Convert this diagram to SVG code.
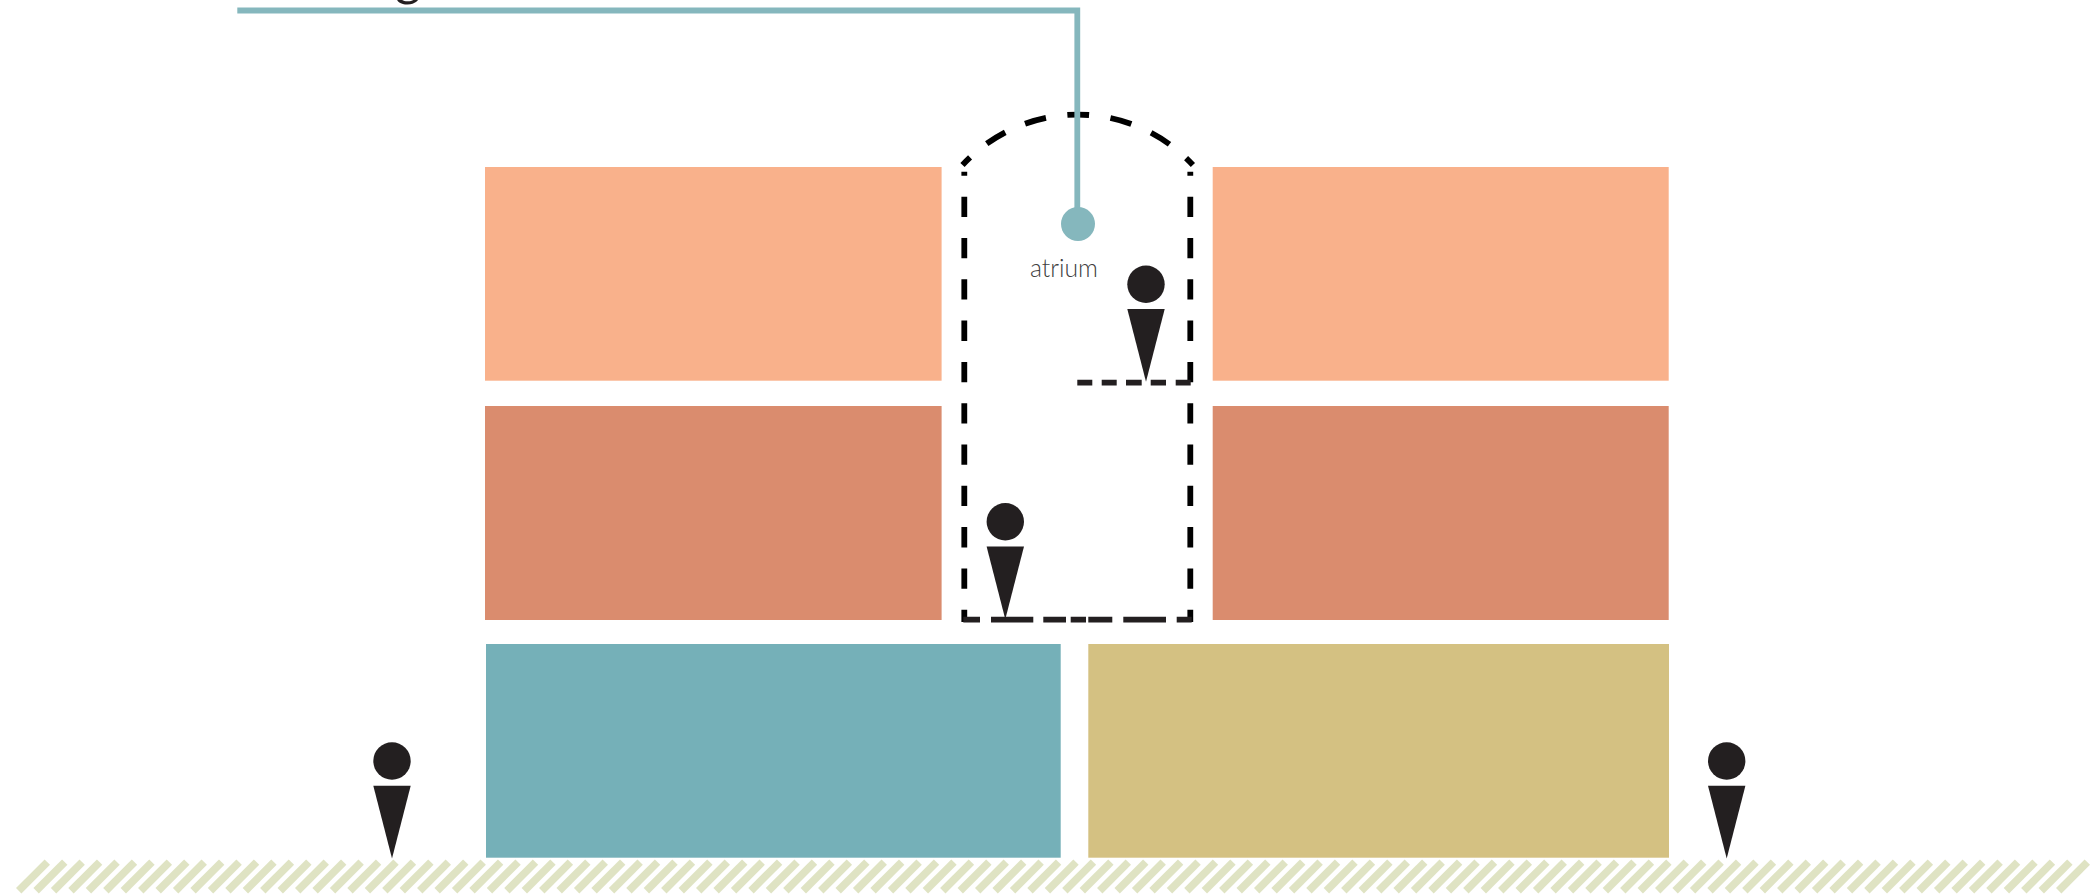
<svg xmlns="http://www.w3.org/2000/svg" width="2094" height="895" viewBox="0 0 2094 895">
<style>
.stripe{stroke:#dfe3c3;stroke-width:7.6;fill:none}
.dash{fill:none;stroke:#000;stroke-width:5.8}
.floor{fill:none;stroke:#231f20;stroke-width:5.8}
.ink{fill:#231f20}
.lab{font-family:"Lato","Liberation Sans",sans-serif;fill:#404040}
</style>
<defs>
<line id="s1" class="stripe" x1="18.7" y1="890.7" x2="47.3" y2="862.1"/>
<g id="s5"><use href="#s1"/><use href="#s1" x="17.436"/><use href="#s1" x="34.872"/><use href="#s1" x="52.308"/><use href="#s1" x="69.744"/></g>
<g id="s25"><use href="#s5"/><use href="#s5" x="87.18"/><use href="#s5" x="174.36"/><use href="#s5" x="261.54"/><use href="#s5" x="348.72"/></g>
<g id="person"><circle cx="0" cy="0" r="18.7"/><path d="M-18.7 24.7H18.7L0 97.5Z"/></g>
</defs>
<rect width="2094" height="895" fill="#fff"/>
<g id="ground"><use href="#s25"/><use href="#s25" x="435.9"/><use href="#s25" x="871.8"/><use href="#s25" x="1307.7"/><use href="#s5" x="1743.6"/><use href="#s5" x="1830.78"/><use href="#s5" x="1917.96"/><use href="#s1" x="2005.14"/><use href="#s1" x="2022.58"/><use href="#s1" x="2040.01"/></g>
<rect id="block-top-left" x="485" y="167" width="456.6" height="213.7" fill="#f9b18b"/>
<rect id="block-top-right" x="1212.7" y="167" width="456" height="213.7" fill="#f9b18b"/>
<rect id="block-mid-left" x="485" y="406" width="456.6" height="214" fill="#da8c6e"/>
<rect id="block-mid-right" x="1212.7" y="406" width="456" height="214" fill="#da8c6e"/>
<rect id="block-low-left" x="486" y="644" width="574.7" height="213.7" fill="#75b0b8"/>
<rect id="block-low-right" x="1088.3" y="644" width="580.7" height="213.7" fill="#d4c182"/>
<g id="atrium-outline">
<path class="dash" stroke-dasharray="21.7 21.6" stroke-dashoffset="10.9" d="M962.5 165A156.8 156.8 0 0 1 1192.9 165"/>
<path class="dash" stroke-dasharray="20.3 21" stroke-dashoffset="16.3" d="M964.3 171.7V622"/>
<path class="dash" stroke-dasharray="20.3 21" stroke-dashoffset="16.3" d="M1190.3 171.7V622"/>
<path class="floor" d="M963.3 619.7H980M991 619.7H1033.3M1043.3 619.7H1066M1070.7 619.7H1086M1088.3 619.7H1112.3M1123.3 619.7H1166M1176.7 619.7H1191.7"/>
<path class="floor" d="M1077.3 382.7H1092.3M1101.7 382.7H1116.7M1126 382.7H1141.7M1150.7 382.7H1166M1175.7 382.7H1190.7"/>
</g>
<g id="connectors"><path d="M237.3 10.5H1077.3V224" fill="none" stroke="#85b7bd" stroke-width="5.8"/></g>
<g id="atrium-marker"><circle cx="1078" cy="224" r="17" fill="#85b7bd"/></g>
<text id="atrium-label" class="lab" x="1030" y="277" font-size="26" font-weight="300" textLength="68" lengthAdjust="spacingAndGlyphs">atrium</text>
<text id="cropped-label" x="395" y="-5" font-size="50" font-family="Lato, 'Liberation Sans', sans-serif" fill="#231f20">g</text>
<use id="person-upper" class="ink" href="#person" x="1146" y="284.3"/>
<use id="person-lower" class="ink" href="#person" x="1005.3" y="521.7"/>
<use id="person-left" class="ink" href="#person" x="392" y="761"/>
<use id="person-right" class="ink" href="#person" x="1726.7" y="761"/>
</svg>
